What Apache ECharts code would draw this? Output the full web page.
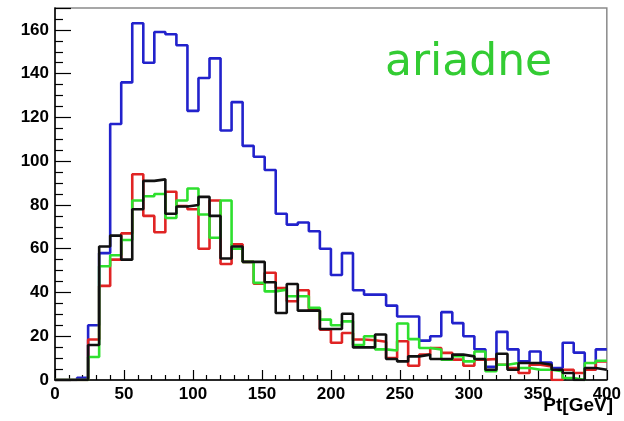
<!DOCTYPE html>
<html><head><meta charset="utf-8">
<script src="https://cdn.jsdelivr.net/npm/echarts@6/dist/echarts.min.js"></script>
<style>html,body{margin:0;padding:0;background:#fff}#c{width:624px;height:421px}</style>
</head><body><div id="c"></div>
<script>
// bin width 8 GeV, 50 bins from 0 to 400
const binWidth = 8;
const blue  = [0,0,1,25,58,117,136,163,145,159,158,153,123,138,147,114,127,107,102,96,76,71,72,68,60,48,58,41,39,39,34,29,29,18,20,31,26,20,14,6,22,14,8.5,13,8,5.5,17,12.5,4.7,14];
const red   = [0,0,0,18.5,43,55,67,94,75,67.5,86,79.5,78,60,82,53,62,54,44,49,42,36,41,32,23,17,21.5,18.5,18.2,17.5,10,17.7,6.5,11.6,14.6,12.4,9.3,6.5,9.3,9.6,7,5.5,3.2,7,6.2,0,4.7,3.2,4.7,8.5];
const green = [0,0,0,10.5,52,57,64,82,84,85,74,82,87.5,75.6,65,82,60,54,44.4,40.5,41.3,38.3,38.3,33,27.6,25,26.8,16,20,14,13.5,25.8,18.7,14.6,13.9,9.3,10.9,8.5,13,4,7,7.8,5.5,4.7,4.7,4,0.9,0,7.8,8.8];
const black = [0,0,0,16,61,66,55,78,91,91.7,76,79.3,80,83.7,75,55.5,61,54,54,44.7,30.6,43.9,31.7,31.7,23.3,23.3,30.3,14.9,14.9,20.8,9.6,8.5,10.8,11.6,9.6,9.6,11.6,10.8,9.6,4.7,12,4.7,7.8,7.8,7,4.7,3.2,0,5.5,4.7];
const xTicks = [0,50,100,150,200,250,300,350,400];
const yTicks = [0,20,40,60,80,100,120,140,160];
const label = 'ariadne';
const xTitle = 'Pt[GeV]';

function toSteps(vals){
  const pts = vals.map((v,i)=>[i*binWidth, v]);
  pts.push([vals.length*binWidth, vals[vals.length-1]]);
  return pts;
}
function ser(name, vals, color){
  return {name, type:'line', step:'end', data:toSteps(vals), showSymbol:false, symbol:'none',
    lineStyle:{color, width:2.6}, itemStyle:{color}, animation:false, silent:true, clip:true};
}
const chart = echarts.init(document.getElementById('c'), null, {renderer:'canvas'});
chart.setOption({
  animation:false,
  backgroundColor:'#fff',
  grid:{left:55, right:11, top:8, bottom:41, show:true, borderColor:'#8a8a8a', borderWidth:1.5},
  xAxis:{type:'value', min:xTicks[0], max:xTicks[xTicks.length-1], interval:50,
    axisLine:{show:true, lineStyle:{color:'#000', width:1.5}},
    axisTick:{show:true, inside:true, length:10, lineStyle:{color:'#000', width:1.2}},
    minorTick:{show:true, splitNumber:5, length:5, lineStyle:{color:'#000', width:1.2}},
    splitLine:{show:false},
    axisLabel:{color:'#000', fontFamily:'Liberation Sans', fontWeight:'bold', fontSize:17, margin:6,
      formatter:v=> xTicks.includes(v)? String(v):''}
  },
  yAxis:{type:'value', min:0, max:170, interval:20,
    axisLine:{show:true, lineStyle:{color:'#000', width:1.5}},
    axisTick:{show:true, inside:true, length:16, lineStyle:{color:'#000', width:1.2}},
    minorTick:{show:true, splitNumber:4, length:8, lineStyle:{color:'#000', width:1.2}},
    splitLine:{show:false},
    axisLabel:{color:'#000', fontFamily:'Liberation Sans', fontWeight:'bold', fontSize:17, margin:6,
      showMaxLabel:false, formatter:v=> yTicks.includes(v)? String(v):''}
  },
  graphic:[
    {type:'text', left:385, top:42, style:{text:label, fill:'#33cc33', font:'44px "DejaVu Sans"'}},
    {type:'text', right:11, top:396, style:{text:xTitle, fill:'#000', font:'bold 19px "Liberation Sans"'}}
  ],
  series:[
    ser('blue', blue, '#2222cc'),
    ser('red', red, '#e02424'),
    ser('green', green, '#2ee02e'),
    ser('black', black, '#111111')
  ]
});
</script></body></html>
